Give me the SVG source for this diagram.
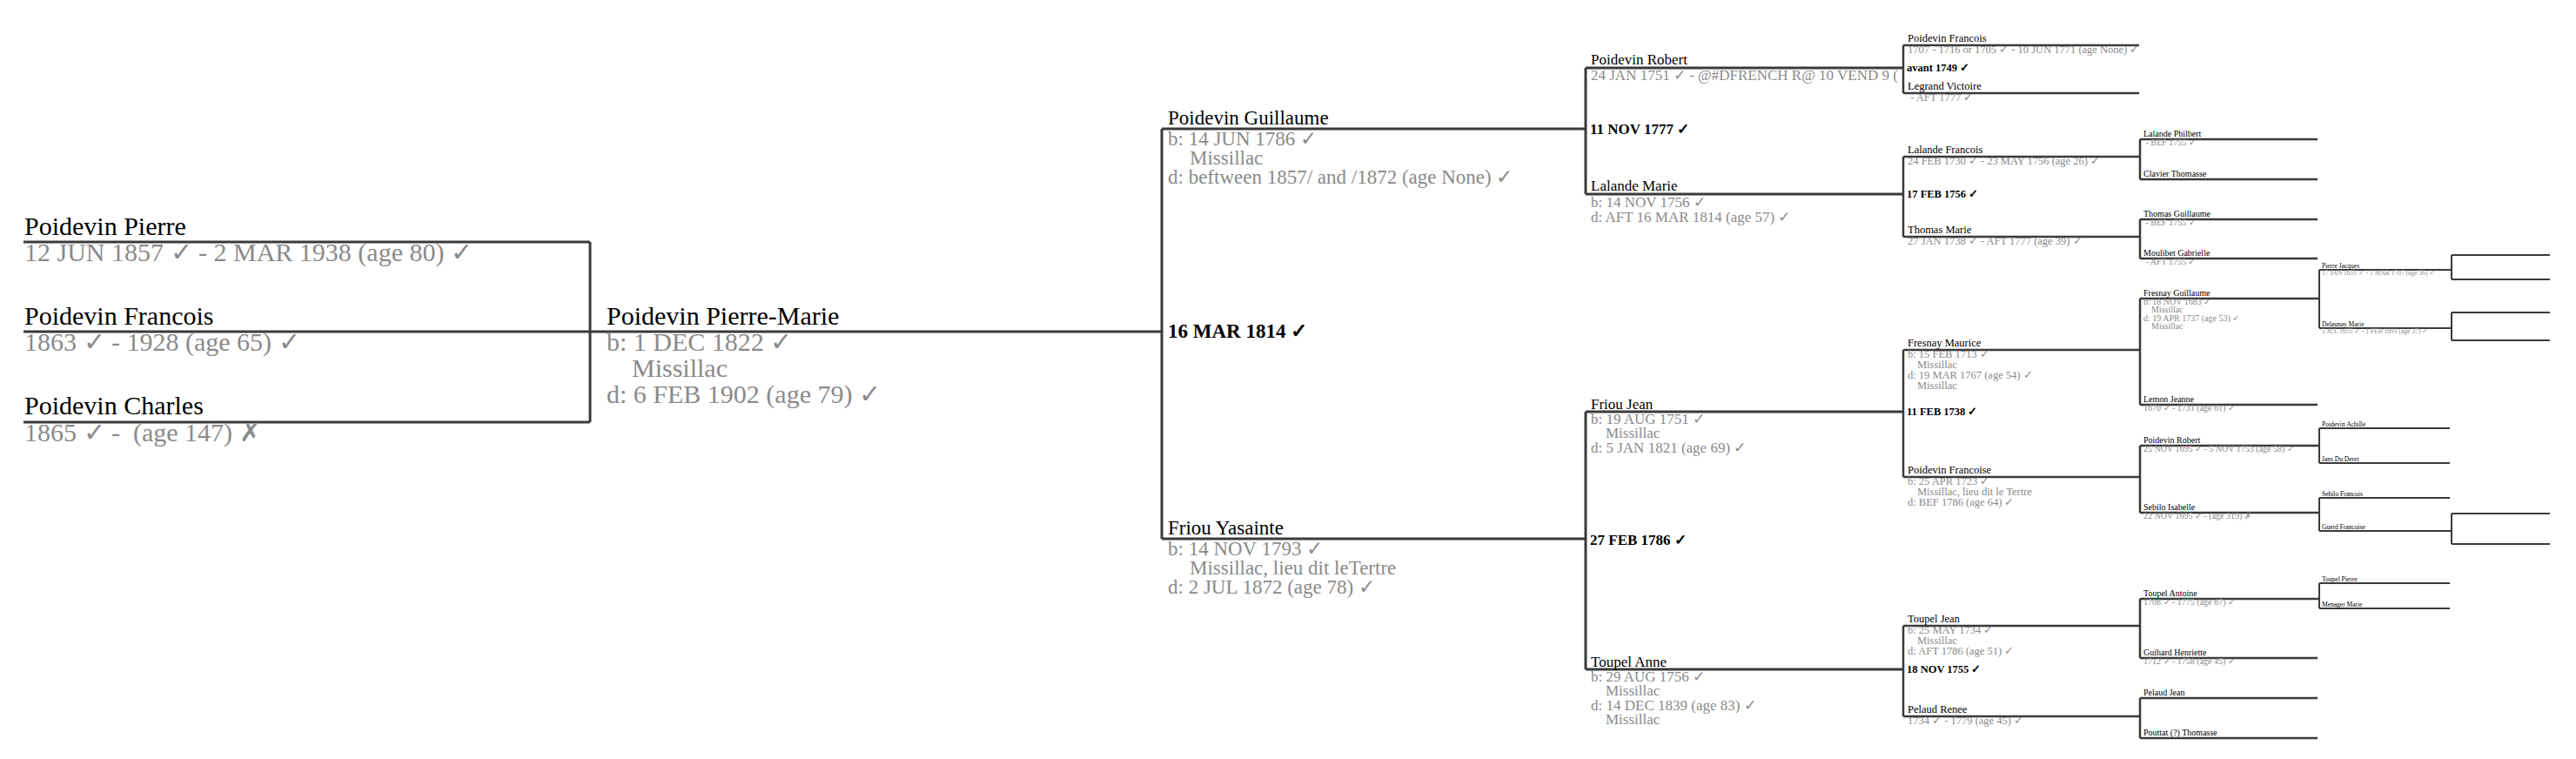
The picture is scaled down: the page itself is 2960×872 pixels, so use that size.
<svg xmlns="http://www.w3.org/2000/svg" width="2960" height="872" viewBox="0 0 2960 872">
<defs>
<style>
text { font-family: "Liberation Serif", "DejaVu Serif", serif; white-space: pre; }
.n { fill: #000; }
.d { fill: #8a8a8a; }
.m { fill: #000; font-weight: bold; }
.g0 { font-size: 30px; }
.g1 { font-size: 30px; }
.g2 { font-size: 23px; }
.g3 { font-size: 17px; }
.g4 { font-size: 12.5px; }
.g5 { font-size: 10px; }
.g6 { font-size: 7.5px; }
.g7 { font-size: 6px; }
.c path { fill: none; stroke: #3a3a3a; stroke-width: 3; }
.c path.t { stroke-width: 2.5; }
.c path.s { stroke-width: 2; }
</style>
</defs>
<rect width="2960" height="872" fill="#fff"/>

<g class="c" id="connectors">
<path d="M27 278 H678 M27 485 H678 M678 278 V485 M27 381 H1335"/>
<path d="M1335 148 V619 M1335 148 H1822 M1335 619 H1822"/>
<path d="M1822 78 V223 M1822 78 H2187 M1822 223 H2187 M1822 473 V769 M1822 473 H2187 M1822 769 H2187"/>
<path class="t" d="M2187 52 V107 M2187 52 H2458 M2187 107 H2458 M2187 180 V272 M2187 180 H2459 M2187 272 H2459 M2187 402 V548 M2187 402 H2459 M2187 548 H2459 M2187 719 V823 M2187 719 H2459 M2187 823 H2459"/>
<path class="t" d="M2459 160 V206 M2459 160 H2663 M2459 206 H2663 M2459 252 V297 M2459 252 H2663 M2459 297 H2663 M2459 343 V465 M2459 343 H2665 M2459 465 H2663 M2459 512 V589 M2459 512 H2665 M2459 589 H2665 M2459 688 V756 M2459 688 H2665 M2459 756 H2663 M2459 802 V848 M2459 802 H2663 M2459 848 H2663"/>
<path class="s" d="M2665 310 V377 M2665 310 H2817 M2665 377 H2817 M2665 492 V532 M2665 492 H2815 M2665 532 H2815 M2665 572 V610 M2665 572 H2815 M2665 610 H2817 M2665 670 V699 M2665 670 H2815 M2665 699 H2815"/>
<path class="s" d="M2817 293 V321 M2817 293 H2930 M2817 321 H2930 M2817 359 V391 M2817 359 H2930 M2817 391 H2930 M2817 590 V625 M2817 590 H2930 M2817 625 H2930"/>
</g>

<g id="p-pierre"><text class="n g0" x="28" y="270">Poidevin Pierre</text><text class="d g0" x="28" y="300">12 JUN 1857 ✓ - 2 MAR 1938 (age 80) ✓</text></g>
<g id="p-francois"><text class="n g0" x="28" y="373">Poidevin Francois</text><text class="d g0" x="28" y="403">1863 ✓ - 1928 (age 65) ✓</text></g>
<g id="p-charles"><text class="n g0" x="28" y="476">Poidevin Charles</text><text class="d g0" x="28" y="507">1865 ✓ -  (age 147) ✗</text></g>

<g id="p-pierre-marie"><text class="n g1" x="697" y="373">Poidevin Pierre-Marie</text><text class="d g1" x="697" y="403">b: 1 DEC 1822 ✓</text><text class="d g1" x="726" y="433">Missillac</text><text class="d g1" x="697" y="463">d: 6 FEB 1902 (age 79) ✓</text></g>

<g id="m-1814"><text class="m g2" x="1342" y="388">16 MAR 1814 ✓</text></g>
<g id="p-guillaume"><text class="n g2" x="1342" y="143">Poidevin Guillaume</text><text class="d g2" x="1342" y="167">b: 14 JUN 1786 ✓</text><text class="d g2" x="1367" y="189">Missillac</text><text class="d g2" x="1342" y="211">d: beftween 1857/ and /1872 (age None) ✓</text></g>
<g id="p-yasainte"><text class="n g2" x="1342" y="614">Friou Yasainte</text><text class="d g2" x="1342" y="638">b: 14 NOV 1793 ✓</text><text class="d g2" x="1367" y="660">Missillac, lieu dit leTertre</text><text class="d g2" x="1342" y="682">d: 2 JUL 1872 (age 78) ✓</text></g>

<g id="m-1777"><text class="m g3" x="1827" y="154">11 NOV 1777 ✓</text></g>
<g id="p-robert"><text class="n g3" x="1828" y="74">Poidevin Robert</text><text class="d g3" x="1828" y="92">24 JAN 1751 ✓ - @#DFRENCH R@ 10 VEND 9 (</text></g>
<g id="p-lalande-marie"><text class="n g3" x="1828" y="219">Lalande Marie</text><text class="d g3" x="1828" y="238">b: 14 NOV 1756 ✓</text><text class="d g3" x="1828" y="255">d: AFT 16 MAR 1814 (age 57) ✓</text></g>
<g id="m-1786"><text class="m g3" x="1827" y="626">27 FEB 1786 ✓</text></g>
<g id="p-friou-jean"><text class="n g3" x="1828" y="470">Friou Jean</text><text class="d g3" x="1828" y="487">b: 19 AUG 1751 ✓</text><text class="d g3" x="1845" y="503">Missillac</text><text class="d g3" x="1828" y="520">d: 5 JAN 1821 (age 69) ✓</text></g>
<g id="p-toupel-anne"><text class="n g3" x="1828" y="766">Toupel Anne</text><text class="d g3" x="1828" y="783">b: 29 AUG 1756 ✓</text><text class="d g3" x="1845" y="799">Missillac</text><text class="d g3" x="1828" y="816">d: 14 DEC 1839 (age 83) ✓</text><text class="d g3" x="1845" y="832">Missillac</text></g>

<g id="m-1749"><text class="m g4" x="2191" y="82">avant 1749 ✓</text></g>
<g id="p-poidevin-francois"><text class="n g4" x="2192" y="48">Poidevin Francois</text><text class="d g4" x="2192" y="61">1707 - 1716 or 1705 ✓ - 10 JUN 1771 (age None) ✓</text></g>
<g id="p-legrand-victoire"><text class="n g4" x="2192" y="103">Legrand Victoire</text><text class="d g4" x="2192" y="116"> - AFT 1777 ✓</text></g>
<g id="m-1756"><text class="m g4" x="2191" y="227">17 FEB 1756 ✓</text></g>
<g id="p-lalande-francois"><text class="n g4" x="2192" y="176">Lalande Francois</text><text class="d g4" x="2192" y="189">24 FEB 1730 ✓ - 23 MAY 1756 (age 26) ✓</text></g>
<g id="p-thomas-marie"><text class="n g4" x="2192" y="268">Thomas Marie</text><text class="d g4" x="2192" y="281">27 JAN 1738 ✓ - AFT 1777 (age 39) ✓</text></g>
<g id="m-1738"><text class="m g4" x="2191" y="477">11 FEB 1738 ✓</text></g>
<g id="p-fresnay-maurice"><text class="n g4" x="2192" y="398">Fresnay Maurice</text><text class="d g4" x="2192" y="411">b: 15 FEB 1713 ✓</text><text class="d g4" x="2203" y="423">Missillac</text><text class="d g4" x="2192" y="435">d: 19 MAR 1767 (age 54) ✓</text><text class="d g4" x="2203" y="447">Missillac</text></g>
<g id="p-poidevin-francoise"><text class="n g4" x="2192" y="544">Poidevin Francoise</text><text class="d g4" x="2192" y="557">b: 25 APR 1723 ✓</text><text class="d g4" x="2203" y="569">Missillac, lieu dit le Tertre</text><text class="d g4" x="2192" y="581">d: BEF 1786 (age 64) ✓</text></g>
<g id="m-1755"><text class="m g4" x="2191" y="773">18 NOV 1755 ✓</text></g>
<g id="p-toupel-jean"><text class="n g4" x="2192" y="715">Toupel Jean</text><text class="d g4" x="2192" y="728">b: 25 MAY 1734 ✓</text><text class="d g4" x="2203" y="740">Missillac</text><text class="d g4" x="2192" y="752">d: AFT 1786 (age 51) ✓</text></g>
<g id="p-pelaud-renee"><text class="n g4" x="2192" y="819">Pelaud Renee</text><text class="d g4" x="2192" y="832">1734 ✓ - 1779 (age 45) ✓</text></g>

<g id="p-lalande-philbert"><text class="n g5" x="2463" y="157">Lalande Philbert</text><text class="d g5" x="2463" y="167"> - BEF 1755 ✓</text></g>
<g id="p-clavier-thomasse"><text class="n g5" x="2463" y="203">Clavier Thomasse</text></g>
<g id="p-thomas-guillaume"><text class="n g5" x="2463" y="249">Thomas Guillaume</text><text class="d g5" x="2463" y="259"> - BEF 1755 ✓</text></g>
<g id="p-moulibet-gabrielle"><text class="n g5" x="2463" y="294">Moulibet Gabrielle</text><text class="d g5" x="2463" y="304"> - AFT 1755 ✓</text></g>
<g id="p-fresnay-guillaume"><text class="n g5" x="2463" y="340">Fresnay Guillaume</text><text class="d g5" x="2463" y="350">b: 18 NOV 1683 ✓</text><text class="d g5" x="2472" y="359">Missillac</text><text class="d g5" x="2463" y="369">d: 19 APR 1737 (age 53) ✓</text><text class="d g5" x="2472" y="378">Missillac</text></g>
<g id="p-lemon-jeanne"><text class="n g5" x="2463" y="462">Lemon Jeanne</text><text class="d g5" x="2463" y="472">1670 ✓ - 1731 (age 61) ✓</text></g>
<g id="p-poidevin-robert2"><text class="n g5" x="2463" y="509">Poidevin Robert</text><text class="d g5" x="2463" y="519">25 NOV 1695 ✓ - 5 NOV 1753 (age 58) ✓</text></g>
<g id="p-sebilo-isabelle"><text class="n g5" x="2463" y="586">Sebilo Isabelle</text><text class="d g5" x="2463" y="596">22 NOV 1695 ✓ - (age 319) ✗</text></g>
<g id="p-toupel-antoine"><text class="n g5" x="2463" y="685">Toupel Antoine</text><text class="d g5" x="2463" y="695">1708 ✓ - 1775 (age 67) ✓</text></g>
<g id="p-guihard-henriette"><text class="n g5" x="2463" y="753">Guihard Henriette</text><text class="d g5" x="2463" y="763">1712 ✓ - 1758 (age 45) ✓</text></g>
<g id="p-pelaud-jean"><text class="n g5" x="2463" y="799">Pelaud Jean</text></g>
<g id="p-pouttat-thomasse"><text class="n g5" x="2463" y="845">Pouttat (?) Thomasse</text></g>

<g id="p-pierre-jacques"><text class="n g6" x="2668" y="308">Pierre Jacques</text><text class="d g6" x="2668" y="316">17 JAN 1651 ✓ - 1 MAR 1707 (age 56) ✓</text></g>
<g id="p-delaunay-marie"><text class="n g6" x="2668" y="375">Delaunay Marie</text><text class="d g6" x="2668" y="383">5 JUL 1655 ✓ - 1 FEB 1693 (age 37) ✓</text></g>
<g id="p-poidevin-achille"><text class="n g6" x="2668" y="490">Poidevin Achille</text></g>
<g id="p-jans-du-deret"><text class="n g6" x="2668" y="530">Jans Du Deret</text></g>
<g id="p-sebilo-francois"><text class="n g6" x="2668" y="570">Sebilo Francois</text></g>
<g id="p-guerd-francoise"><text class="n g6" x="2668" y="608">Guerd Francoise</text></g>
<g id="p-toupel-pierre"><text class="n g6" x="2668" y="668">Toupel Pierre</text></g>
<g id="p-menager-marie"><text class="n g6" x="2668" y="697">Menager Marie</text></g>
</svg>
